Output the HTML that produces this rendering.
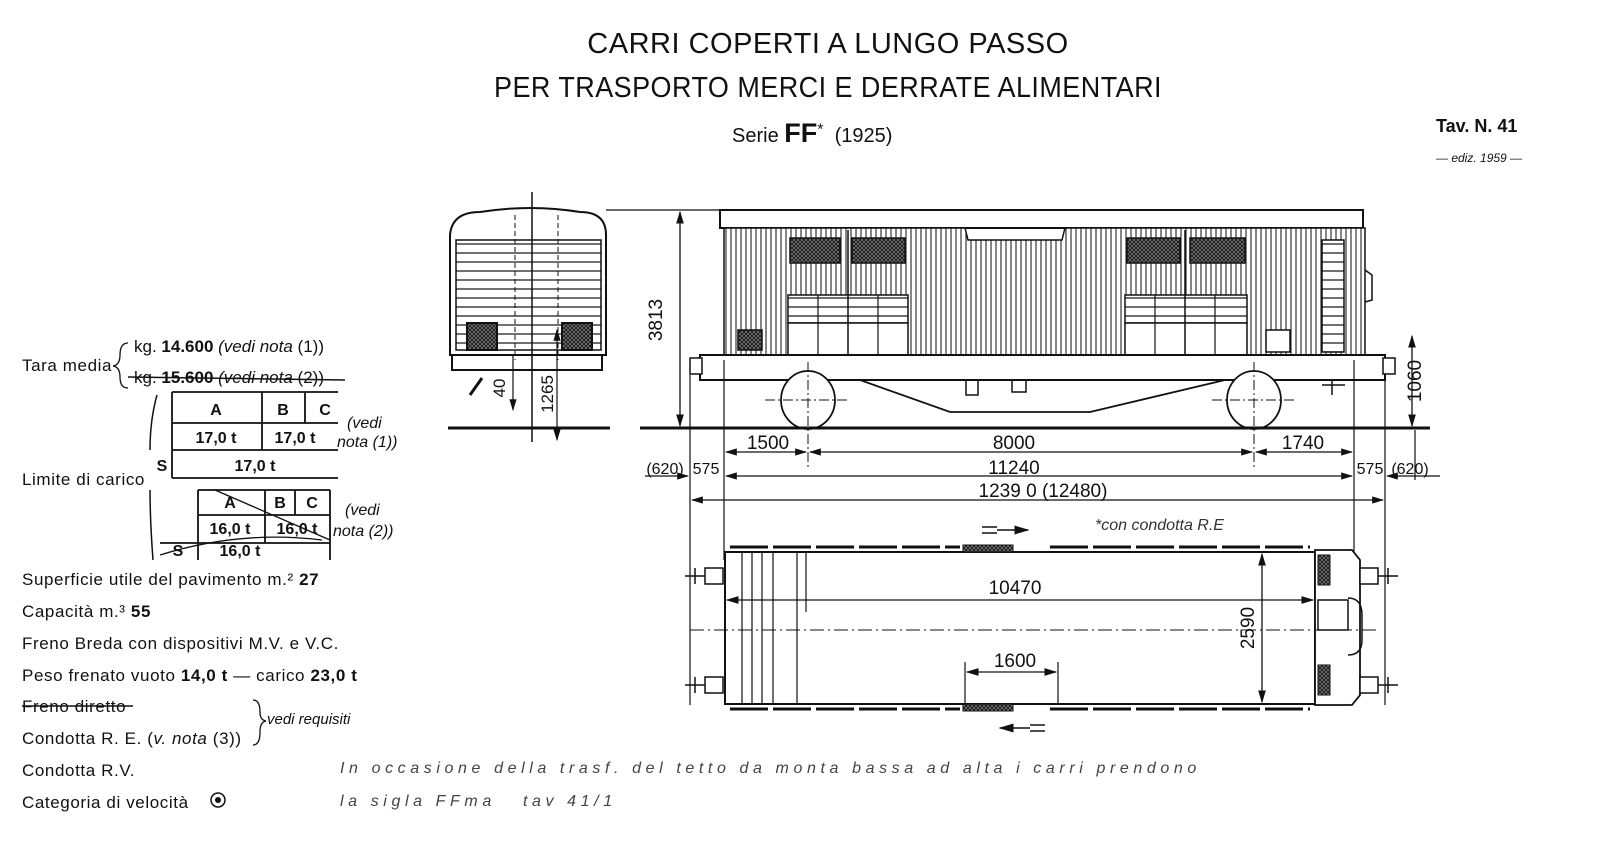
<!DOCTYPE html>
<html><head><meta charset="utf-8"><style>
html,body{margin:0;padding:0;background:#fff;}
body{width:1600px;height:860px;overflow:hidden;position:relative;font-family:"Liberation Sans",sans-serif;color:#111;}
.t{position:absolute;white-space:nowrap;}
.l{font-size:17px;left:22px;letter-spacing:0.6px;}
</style></head><body>
<svg width="1600" height="860" style="position:absolute;left:0;top:0" xmlns="http://www.w3.org/2000/svg" font-family="Liberation Sans, sans-serif">
<defs>
<pattern id="vl" width="5" height="10" patternUnits="userSpaceOnUse"><rect width="5" height="10" fill="#fff"/><line x1="1" y1="0" x2="1" y2="10" stroke="#222" stroke-width="1.1"/></pattern>
<pattern id="hl" width="10" height="9" patternUnits="userSpaceOnUse"><rect width="10" height="9" fill="#fff"/><line x1="0" y1="1" x2="10" y2="1" stroke="#222" stroke-width="1.3"/></pattern>
<pattern id="xh" width="4" height="4" patternUnits="userSpaceOnUse"><rect width="4" height="4" fill="#777"/><path d="M0 0L4 4M4 0L0 4" stroke="#111" stroke-width="0.8"/></pattern>
<marker id="a" markerWidth="10" markerHeight="8" refX="9" refY="4" orient="auto-start-reverse"><path d="M0 1L10 4L0 7z" fill="#111"/></marker>
</defs>
<g fill="none" stroke="#111" stroke-width="2">
<path d="M450 355 L450 235 Q452 212 480 212 Q530 204 580 212 Q606 212 606 235 L606 355 Z" fill="#fff"/>
<rect x="456" y="240" width="145" height="110" fill="url(#hl)" stroke-width="1.5"/>
<rect x="467" y="323" width="30" height="27" fill="url(#xh)"/>
<rect x="562" y="323" width="30" height="27" fill="url(#xh)"/>
<rect x="452" y="355" width="150" height="15" fill="#fff"/>
<line x1="532" y1="192" x2="532" y2="442" stroke-width="1.5"/>
<line x1="515" y1="215" x2="515" y2="360" stroke-width="1" stroke-dasharray="5 3"/>
<line x1="558" y1="215" x2="558" y2="360" stroke-width="1" stroke-dasharray="5 3"/>
<line x1="448" y1="428" x2="610" y2="428" stroke-width="3"/>
<line x1="513" y1="355" x2="513" y2="410" stroke-width="1.2" marker-end="url(#a)"/>
<line x1="557" y1="330" x2="557" y2="440" stroke-width="1.2" marker-start="url(#a)" marker-end="url(#a)"/>
<line x1="470" y1="395" x2="482" y2="378" stroke-width="3"/>
<line x1="606" y1="210" x2="720" y2="210" stroke-width="1.2"/>
<rect x="720" y="210" width="643" height="18" fill="#fff"/>
<path d="M724 228 L965 228 L968 240 L1062 240 L1065 228 L1365 228 L1365 355 L724 355 Z" fill="url(#vl)" stroke-width="1.5"/>
<g stroke-width="1.5" fill="#fff">
<rect x="790" y="238" width="50" height="25" fill="url(#xh)"/><rect x="852" y="238" width="53" height="25" fill="url(#xh)"/>
<rect x="1127" y="238" width="53" height="25" fill="url(#xh)"/><rect x="1190" y="238" width="55" height="25" fill="url(#xh)"/>
<rect x="788" y="295" width="120" height="28" fill="url(#hl)"/><rect x="1125" y="295" width="122" height="28" fill="url(#hl)"/>
<rect x="788" y="323" width="120" height="32"/><rect x="1125" y="323" width="122" height="32"/>
<rect x="738" y="330" width="24" height="20" fill="url(#xh)"/><rect x="1266" y="330" width="24" height="22"/>
<rect x="1322" y="240" width="22" height="112" fill="url(#hl)"/>
</g>
<line x1="818" y1="295" x2="818" y2="355" stroke-width="1.2"/><line x1="848" y1="230" x2="848" y2="355" stroke-width="1.5"/><line x1="878" y1="295" x2="878" y2="355" stroke-width="1.2"/>
<line x1="1155" y1="295" x2="1155" y2="355" stroke-width="1.2"/><line x1="1185" y1="230" x2="1185" y2="355" stroke-width="1.5"/><line x1="1215" y1="295" x2="1215" y2="355" stroke-width="1.2"/>
<rect x="700" y="355" width="685" height="25" fill="#fff"/>
<path d="M1365 270 L1372 275 L1372 300 L1365 302" stroke-width="1.5"/>
<rect x="690" y="358" width="12" height="16" fill="#fff" stroke-width="1.5"/><rect x="1383" y="358" width="12" height="16" fill="#fff" stroke-width="1.5"/>
<path d="M860 380 L950 412 L1090 412 L1225 380" stroke-width="1.8"/>
<rect x="966" y="380" width="12" height="15" stroke-width="1.5"/><rect x="1012" y="380" width="14" height="12" stroke-width="1.5"/>
<ellipse cx="808" cy="400" rx="27" ry="29" fill="#fff" stroke-width="1.8"/>
<ellipse cx="1254" cy="400" rx="27" ry="29" fill="#fff" stroke-width="1.8"/>
<line x1="765" y1="400" x2="850" y2="400" stroke-width="1" stroke-dasharray="10 3 2 3"/><line x1="1212" y1="400" x2="1296" y2="400" stroke-width="1" stroke-dasharray="10 3 2 3"/>
<line x1="808" y1="362" x2="808" y2="470" stroke-width="1" stroke-dasharray="10 3 2 3"/><line x1="1254" y1="362" x2="1254" y2="470" stroke-width="1" stroke-dasharray="10 3 2 3"/>
<line x1="1322" y1="385" x2="1345" y2="385" stroke-width="1.5"/><line x1="1332" y1="380" x2="1332" y2="395" stroke-width="1.5"/>
<line x1="640" y1="428" x2="1430" y2="428" stroke-width="3"/>
<line x1="680" y1="212" x2="680" y2="426" stroke-width="1.3" marker-start="url(#a)" marker-end="url(#a)"/>
<line x1="1412" y1="336" x2="1412" y2="426" stroke-width="1.3" marker-start="url(#a)" marker-end="url(#a)"/>
<g stroke-width="1.2">
<line x1="690" y1="375" x2="690" y2="705"/><line x1="724" y1="360" x2="724" y2="560"/><line x1="1354" y1="360" x2="1354" y2="560"/><line x1="1385" y1="375" x2="1385" y2="705"/><line x1="1415" y1="430" x2="1415" y2="480"/>
<line x1="726" y1="452" x2="806" y2="452" marker-start="url(#a)" marker-end="url(#a)"/>
<line x1="810" y1="452" x2="1252" y2="452" marker-start="url(#a)" marker-end="url(#a)"/>
<line x1="1256" y1="452" x2="1352" y2="452" marker-start="url(#a)" marker-end="url(#a)"/>
<line x1="726" y1="476" x2="1352" y2="476" marker-start="url(#a)" marker-end="url(#a)"/>
<line x1="645" y1="476" x2="688" y2="476" marker-end="url(#a)"/><line x1="1440" y1="476" x2="1387" y2="476" marker-end="url(#a)"/>
<line x1="692" y1="500" x2="1383" y2="500" marker-start="url(#a)" marker-end="url(#a)"/>
</g>
<rect x="725" y="552" width="590" height="152" fill="#fff"/>
<g stroke-width="1.2"><line x1="742" y1="552" x2="742" y2="704"/><line x1="752" y1="552" x2="752" y2="704"/><line x1="762" y1="552" x2="762" y2="704"/><line x1="773" y1="552" x2="773" y2="704"/><line x1="797" y1="552" x2="797" y2="704"/><line x1="806" y1="552" x2="806" y2="612"/></g>
<path d="M730 547 H960 M1050 547 H1310" stroke-width="3" stroke-dasharray="38 5"/>
<path d="M730 709 H960 M1050 709 H1310" stroke-width="3" stroke-dasharray="38 5"/>
<rect x="963" y="545" width="50" height="7" fill="url(#xh)" stroke-width="1"/><rect x="963" y="704" width="50" height="7" fill="url(#xh)" stroke-width="1"/>
<path d="M1315 550 H1352 L1360 560 V695 L1352 705 H1315 Z" fill="#fff" stroke-width="1.8"/>
<rect x="1318" y="600" width="30" height="30" fill="#fff" stroke-width="1.5"/>
<path d="M1348 598 Q1362 598 1362 615 V640 Q1362 655 1348 655" stroke-width="1.5"/>
<rect x="1318" y="555" width="12" height="30" fill="url(#xh)" stroke-width="1"/><rect x="1318" y="665" width="12" height="30" fill="url(#xh)" stroke-width="1"/>
<g fill="#fff" stroke-width="1.5"><rect x="705" y="568" width="18" height="16"/><rect x="705" y="677" width="18" height="16"/><rect x="1360" y="568" width="18" height="16"/><rect x="1360" y="677" width="18" height="16"/></g>
<g stroke-width="1.5"><line x1="685" y1="576" x2="705" y2="576"/><line x1="685" y1="685" x2="705" y2="685"/><line x1="1378" y1="576" x2="1398" y2="576"/><line x1="1378" y1="685" x2="1398" y2="685"/>
<path d="M695 568 V584 M695 677 V693 M1388 568 V584 M1388 677 V693"/></g>
<line x1="690" y1="630" x2="1380" y2="630" stroke-width="1" stroke-dasharray="14 4 2 4"/>
<line x1="727" y1="600" x2="1313" y2="600" stroke-width="1.3" marker-start="url(#a)" marker-end="url(#a)"/>
<line x1="1262" y1="554" x2="1262" y2="702" stroke-width="1.3" marker-start="url(#a)" marker-end="url(#a)"/>
<line x1="965" y1="662" x2="965" y2="705" stroke-width="1.2"/><line x1="1058" y1="662" x2="1058" y2="705" stroke-width="1.2"/>
<line x1="967" y1="672" x2="1056" y2="672" stroke-width="1.3" marker-start="url(#a)" marker-end="url(#a)"/>
<line x1="997" y1="530" x2="1028" y2="530" stroke-width="1.5" marker-end="url(#a)"/><path d="M982 527 H997 M982 533 H997" stroke-width="1.5"/>
<line x1="1030" y1="728" x2="1000" y2="728" stroke-width="1.5" marker-end="url(#a)"/><path d="M1030 725 H1045 M1030 731 H1045" stroke-width="1.5"/>
<g stroke-width="1.8">
<line x1="172" y1="392" x2="338" y2="392"/><line x1="172" y1="392" x2="172" y2="478"/><line x1="172" y1="423" x2="338" y2="423"/><line x1="172" y1="450" x2="338" y2="450"/><line x1="172" y1="478" x2="338" y2="478"/>
<line x1="262" y1="392" x2="262" y2="450"/><line x1="305" y1="392" x2="305" y2="423"/>
<line x1="198" y1="490" x2="330" y2="490"/><line x1="198" y1="490" x2="198" y2="560"/><line x1="198" y1="515" x2="330" y2="515"/><line x1="160" y1="543" x2="330" y2="543"/>
<line x1="265" y1="490" x2="265" y2="543"/><line x1="295" y1="490" x2="295" y2="515"/><line x1="330" y1="490" x2="330" y2="560"/>
<path d="M215 490 L330 540 M160 555 Q240 530 322 540" stroke-width="1.3"/>
<path d="M128 343 Q120 343 120 355 Q120 365 113 366 Q120 367 120 377 Q120 388 128 388" stroke-width="1.3"/>
<path d="M157 395 Q150 420 150 450 M150 490 Q150 520 153 560" stroke-width="1.5"/>
<path d="M253 700 Q260 700 260 712 Q260 720 266 721 Q260 722 260 732 Q260 745 253 745" stroke-width="1.3"/>
<circle cx="218" cy="800" r="7" stroke-width="1.5"/>
</g>
</g>
<circle cx="218" cy="800" r="3" fill="#111"/>
<g fill="#111">
<text x="662" y="320" font-size="19" transform="rotate(-90 662 320)" text-anchor="middle">3813</text>
<text x="1421" y="381" font-size="19" transform="rotate(-90 1421 381)" text-anchor="middle">1060</text>
<text x="505" y="388" font-size="17" transform="rotate(-90 505 388)" text-anchor="middle">40</text>
<text x="553" y="394" font-size="17" transform="rotate(-90 553 394)" text-anchor="middle">1265</text>
<text x="768" y="449" font-size="19" text-anchor="middle">1500</text>
<text x="1014" y="449" font-size="19" text-anchor="middle">8000</text>
<text x="1303" y="449" font-size="19" text-anchor="middle">1740</text>
<text x="1014" y="474" font-size="19" text-anchor="middle">11240</text>
<text x="665" y="474" font-size="16" text-anchor="middle">(620)</text><text x="706" y="474" font-size="16" text-anchor="middle">575</text>
<text x="1370" y="474" font-size="16" text-anchor="middle">575</text><text x="1410" y="474" font-size="16" text-anchor="middle">(620)</text>
<text x="1043" y="497" font-size="19" text-anchor="middle">1239 0 (12480)</text>
<text x="1015" y="594" font-size="19" text-anchor="middle">10470</text>
<text x="1015" y="667" font-size="19" text-anchor="middle">1600</text>
<text x="1254" y="628" font-size="19" transform="rotate(-90 1254 628)" text-anchor="middle">2590</text>
<text x="1095" y="530" font-size="16" font-style="italic" fill="#333">*con condotta  R.E</text>
<g font-size="16" font-weight="bold" text-anchor="middle">
<text x="216" y="415">A</text><text x="283" y="415">B</text><text x="325" y="415">C</text>
<text x="216" y="443">17,0 t</text><text x="295" y="443">17,0 t</text><text x="255" y="471">17,0 t</text><text x="162" y="471">S</text>
<text x="230" y="508">A</text><text x="280" y="508">B</text><text x="312" y="508">C</text>
<text x="230" y="534">16,0 t</text><text x="297" y="534">16,0 t</text><text x="178" y="556">S</text><text x="240" y="556">16,0 t</text>
</g>
<g font-size="16" font-style="italic"><text x="347" y="428">(vedi</text><text x="337" y="447">nota (1))</text><text x="345" y="515">(vedi</text><text x="333" y="536">nota (2))</text></g>
</g>
<line x1="128" y1="377" x2="345" y2="380" stroke="#111" stroke-width="1.5"/>
<line x1="22" y1="706" x2="133" y2="706" stroke="#111" stroke-width="1.5"/>
</svg>
<div class="t" style="left:0;width:1656px;text-align:center;top:28px;font-size:29px;letter-spacing:0.5px;transform:scaleX(1.0);transform-origin:828px 0;">CARRI COPERTI A LUNGO PASSO</div>
<div class="t" style="left:0;width:1656px;text-align:center;top:72px;font-size:29px;letter-spacing:0.5px;transform:scaleX(0.93);transform-origin:828px 0;">PER TRASPORTO MERCI E DERRATE ALIMENTARI</div>
<div class="t" style="left:732px;top:118px;font-size:20px;">Serie <b style="font-size:27px">FF</b><sup style="font-size:16px">*</sup> &nbsp;(1925)</div>
<div class="t" style="left:1436px;top:116px;font-size:18px;font-weight:bold;">Tav. N. 41</div>
<div class="t" style="left:1436px;top:151px;font-size:12px;font-style:italic;">— ediz. 1959 —</div>
<div class="t l" style="top:356px;">Tara media</div>
<div class="t" style="left:134px;top:337px;font-size:17px;">kg. <b>14.600</b> <i>(vedi nota</i> (1))</div>
<div class="t" style="left:134px;top:368px;font-size:17px;">kg. <b>15.600</b> <i>(vedi nota</i> (2))</div>
<div class="t l" style="top:470px;">Limite di carico</div>
<div class="t l" style="top:570px;">Superficie utile del pavimento m.² <b>27</b></div>
<div class="t l" style="top:602px;">Capacità m.³ <b>55</b></div>
<div class="t l" style="top:634px;">Freno Breda con dispositivi M.V. e V.C.</div>
<div class="t l" style="top:666px;">Peso frenato vuoto <b>14,0 t</b> — carico <b>23,0 t</b></div>
<div class="t l" style="top:697px;">Freno diretto</div>
<div class="t l" style="top:729px;">Condotta R. E. (<i>v. nota</i> (3))</div>
<div class="t" style="left:267px;top:711px;font-size:15px;font-style:italic;">vedi requisiti</div>
<div class="t l" style="top:761px;">Condotta R.V.</div>
<div class="t l" style="top:793px;">Categoria di velocità</div>
<div class="t" style="left:340px;top:760px;font-size:16px;font-style:italic;color:#444;letter-spacing:4.6px;">In occasione della trasf. del tetto da monta bassa ad alta i carri prendono</div>
<div class="t" style="left:340px;top:793px;font-size:16px;font-style:italic;color:#444;letter-spacing:4.6px;">la sigla FFma &nbsp; tav 41/1</div>
</body></html>
